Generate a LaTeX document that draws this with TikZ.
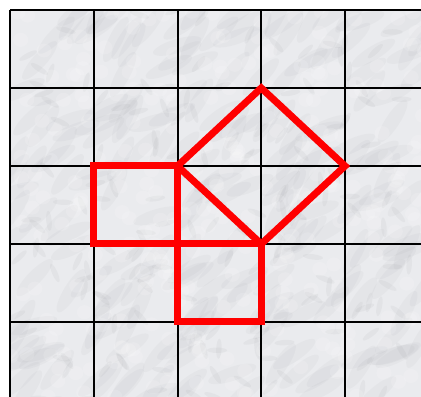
\documentclass[tikz,border=0pt]{standalone}
\usepackage{tikz}
\usetikzlibrary{calc}
\definecolor{marble}{RGB}{234,235,238}
\definecolor{vein}{RGB}{110,112,118}

\begin{document}
\begin{tikzpicture}[x=83.75pt, y=-78pt]
		%%%%% START %%%%%
		
		\useasboundingbox (-0.1194, -0.1282) rectangle (4.9075, 4.9615);
		
		% marble floor
		\begin{scope}
		\clip (0, 0) rectangle (4.9075, 4.9615);
		\fill[marble] (0, 0) rectangle (4.9075, 4.9615);
		\pgfmathsetseed{23}
		\foreach \i in {1,...,220}{
			\pgfmathsetmacro\px{rnd*5}
			\pgfmathsetmacro\py{rnd*5}
			\pgfmathsetmacro\ang{15+rnd*50}
			\fill[vein, opacity=0.045, rotate around={\ang:(\px,\py)}] (\px, \py) ellipse (0.3 and 0.09);
		}
		\foreach \i in {1,...,160}{
			\pgfmathsetmacro\px{rnd*5}
			\pgfmathsetmacro\py{rnd*5}
			\pgfmathsetmacro\ang{rnd*360}
			\fill[vein, opacity=0.06, rotate around={\ang:(\px,\py)}] (\px, \py) ellipse (0.12 and 0.035);
		}
		\foreach \i in {1,...,300}{
			\pgfmathsetmacro\px{rnd*5}
			\pgfmathsetmacro\py{rnd*5}
			\fill[white, opacity=0.15] (\px, \py) circle (0.09);
		}
		\end{scope}
		
		% tiles
		\foreach \k in {0,...,5}{
			\draw[line width=2pt, color=black] (\k, 0) -- (\k, 5);
			\draw[line width=2pt, color=black] (0, \k) -- (5, \k);
		}
		
		% squares on the sides of the triangle
		\coordinate (A) at (2, 2);
		\coordinate (B) at (2, 3);
		\coordinate (C) at (3, 3);
		
		\draw[line width=7pt, color=red] (1, 2) rectangle (B);
		\draw[line width=7pt, color=red] (B) rectangle (3, 4);
		\draw[line width=7pt, color=red] (A) -- (3, 1) -- (4, 2) -- (C) -- cycle;
		
		%%%%% END %%%%%
	\end{tikzpicture}
\end{document}
